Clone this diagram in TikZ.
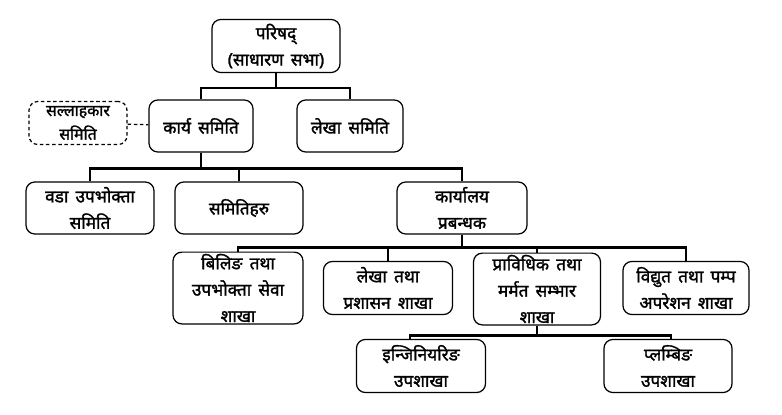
\documentclass[tikz,border=0pt]{standalone}
\usepackage{fontspec}
\newfontfamily\deva[Script=Devanagari,FakeBold=1.6,WordSpace=1.6]{Noto Sans}
\usetikzlibrary{positioning}

\tikzset{
  unit/.style={draw, rounded corners=5pt, align=center, minimum width=2.56cm,
    minimum height=1.06cm, inner sep=1pt, line width=0.7pt,
    font=\deva\fontsize{9.8}{15}\selectfont},
  advisor/.style={unit, dash pattern=on 2pt off 1.5pt, minimum width=1.96cm, minimum height=0.86cm,
    font=\deva\fontsize{9}{13.5}\selectfont},
  link/.style={line width=1.3pt}
}

\begin{document}
\begin{tikzpicture}
  \useasboundingbox (0,0) rectangle (15.64,-8.28);
  \node[unit] (parishad) at (5.52,-0.92) {परिषद्\\(साधारण सभा)};
  \node[unit,minimum width=2.08cm,minimum height=1.04cm] (karya) at (4.02,-2.52) {कार्य समिति};
  \node[unit,minimum width=2.12cm,minimum height=1.04cm] (lekhasamiti) at (7.00,-2.52) {लेखा समिति};
  \node[advisor] (salla) at (1.56,-2.46) {सल्लाहकार\\समिति};
  \node[unit,minimum height=1.04cm] (wada) at (1.80,-4.16) {वडा उपभोक्ता\\समिति};
  \node[unit,minimum height=1.04cm] (samitiharu) at (4.78,-4.16) {समितिहरु};
  \node[unit,minimum width=2.6cm,minimum height=1.04cm] (karyalaya) at (9.24,-4.16) {कार्यालय\\प्रबन्धक};
  \node[unit,minimum width=2.6cm] (billing) at (4.76,-5.76) {बिलिङ तथा\\उपभोक्ता सेवा\\शाखा};
  \node[unit,minimum width=2.58cm] (lekhatatha) at (7.76,-5.76) {लेखा तथा\\प्रशासन शाखा};
  \node[unit,minimum width=2.54cm,minimum height=1.08cm] (pravidhik) at (10.74,-5.78) {प्राविधिक तथा\\मर्मत सम्भार\\शाखा};
  \node[unit,minimum width=2.52cm] (bidyut) at (13.72,-5.76) {विद्युत तथा पम्प\\अपरेशन शाखा};
  \node[unit,minimum width=2.58cm] (engineering) at (8.42,-7.32) {इन्जिनियरिङ\\उपशाखा};
  \node[unit] (plumbing) at (13.36,-7.32) {प्लम्बिङ\\उपशाखा};
  % council level
  \draw[link] (parishad.south) -- ++(0,-0.3) -| (karya.north);
  \draw[link] (parishad.south) -- ++(0,-0.3) -| (lekhasamiti.north);
  \draw[dash pattern=on 2pt off 1.5pt, line width=0.7pt] (salla) -- (karya);
  % executive committee level
  \draw[link] (karya.south) -- ++(0,-0.32) -| (wada.north);
  \draw[link] (karya.south) -- ++(0,-0.32) -| (samitiharu.north);
  \draw[link] (karya.south) -- ++(0,-0.32) -| (karyalaya.north);
  % branches
  \draw[link] (karyalaya.south) -- ++(0,-0.26) -| (billing.north);
  \draw[link] (karyalaya.south) -- ++(0,-0.26) -| (lekhatatha.north);
  \draw[link] (karyalaya.south) -- ++(0,-0.26) -| (pravidhik.north);
  \draw[link] (karyalaya.south) -- ++(0,-0.26) -| (bidyut.north);
  % sub-branches
  \draw[link] (pravidhik.south) -- ++(0,-0.2) -| ([xshift=-0.22cm]engineering.north);
  \draw[link] (pravidhik.south) -- ++(0,-0.2) -| ([xshift=0.06cm]plumbing.north);
\end{tikzpicture}
\end{document}
